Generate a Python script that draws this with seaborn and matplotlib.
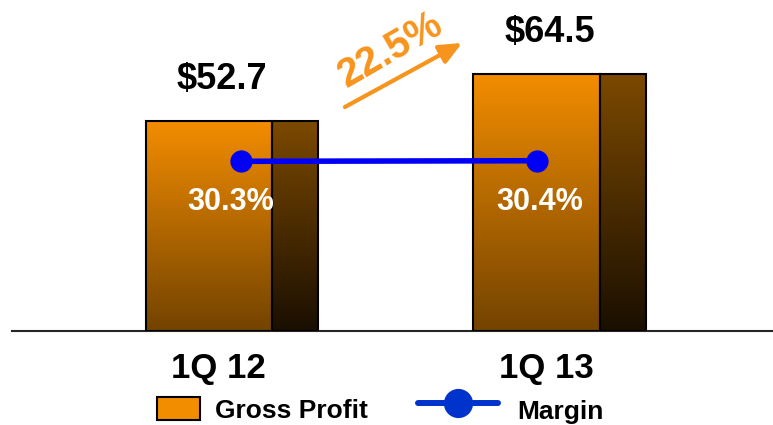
import numpy as np
import matplotlib.pyplot as plt
import matplotlib.colors as mcolors
from matplotlib.lines import Line2D
from matplotlib.patches import Patch
import seaborn as sns

# datos del grafico
quarters = ['1Q 12', '1Q 13']
gross_profit = [52.7, 64.5]
margin = [30.3, 30.4]
growth_label = '22.5%'

sns.set_style('white', rc={'text.color': 'black', 'xtick.color': 'black',
                           'axes.labelcolor': 'black'})
plt.rcParams['font.family'] = ['Liberation Sans', 'DejaVu Sans']

# ajustes de forma / posicion
front_w = 0.385
side_w = 0.141
marker_shift = [0.098, 0.0]
pct_shift = [0.067, 0.008]
value_shift = 0.04
label_shift = 0.03
orange = '#f7941d'


def fill_gradient(ax, bar, top, bottom):
    x0, y0 = bar.get_x(), bar.get_y()
    w, h = bar.get_width(), bar.get_height()
    cmap = mcolors.LinearSegmentedColormap.from_list('g', [bottom, top])
    grad = np.linspace(0, 1, 256).reshape(-1, 1)
    img = ax.imshow(grad, cmap=cmap, origin='lower', extent=[x0, x0 + w, y0, y0 + h],
                    aspect='auto', zorder=2.8)
    img.set_clip_path(bar)
    bar.set_facecolor('none')


fig = plt.figure(figsize=(7.73, 4.25), dpi=100)
ax = fig.add_axes([12 / 773, 94 / 425, 761 / 773, 331 / 425])

# barras frontales
sns.barplot(x=quarters, y=gross_profit, width=front_w, ax=ax, color='#f28d00',
            edgecolor='black', linewidth=1.5, zorder=3)
front_bars = list(ax.patches)
# cara lateral (efecto 3D)
pos = np.arange(len(quarters))
side_bars = ax.bar(pos + front_w / 2 + side_w / 2, gross_profit, width=side_w,
                   facecolor='#7a4800', edgecolor='black', linewidth=1.5, zorder=3)

for b in front_bars:
    fill_gradient(ax, b, '#f38d00', '#734300')
for b in side_bars:
    fill_gradient(ax, b, '#7c4900', '#1a0f00')

# etiquetas de valor
for i, v in enumerate(gross_profit):
    ax.annotate(f'${v}', (i + value_shift, v), xytext=(0, 23), textcoords='offset points',
                ha='center', va='baseline', fontsize=26, fontweight='bold', color='black')

# margen en eje secundario
ax2 = ax.twinx()
sns.lineplot(x=pos + np.array(marker_shift), y=margin, ax=ax2, color='#0000f5', lw=4,
             marker='o', markersize=16, markeredgewidth=0, zorder=5)
ax2.set_ylim(0, 59.1)
ax2.axis('off')
for i, m in enumerate(margin):
    ax2.annotate(f'{m}%', (i + pct_shift[i], m), xytext=(0, -35.3), textcoords='offset points',
                 ha='center', va='baseline', fontsize=22, fontweight='bold', color='white')

# flecha de crecimiento
ax.annotate('', xy=(0.7725, 72.4), xytext=(0.415, 56.3),
            arrowprops=dict(arrowstyle='-|>,head_length=0.9,head_width=0.4', color=orange,
                            lw=3, shrinkA=0, shrinkB=0, mutation_scale=15))
ax.text(0.553, 70.6, growth_label, rotation=30, ha='center', va='center',
        color=orange, fontsize=29, fontweight='bold')

# ejes
ax.set_ylim(0, 83.2)
ax.set_xlim(-0.6015, 1.722)
ax.set_yticks([])
ax.set_ylabel('')
ax.set_xticks(pos + label_shift, quarters)
ax.tick_params(axis='x', length=0, pad=34, labelsize=25, labelcolor='black')
for lab in ax.get_xticklabels():
    lab.set_fontweight('bold')
    lab.set_va('baseline')
sns.despine(ax=ax, left=True)
ax.spines['bottom'].set_color('#262626')
ax.spines['bottom'].set_linewidth(1.5)

# leyenda
leg_font = dict(weight='bold', size=19)
fig.legend(handles=[Patch(facecolor='#f28d00', edgecolor='black', linewidth=1.5)],
           labels=['Gross Profit'], loc='center left', bbox_to_anchor=(157 / 773, 0.036),
           frameon=False, borderpad=0, borderaxespad=0, handlelength=1.63,
           handleheight=1.0, handletextpad=0.57, prop=leg_font, labelcolor='black')
fig.legend(handles=[Line2D([], [], color='#0033cc', lw=4.3, marker='o', markersize=20)],
           labels=['Margin'], loc='center left', bbox_to_anchor=(418 / 773, 0.0334),
           frameon=False, borderpad=0, borderaxespad=0, handlelength=3.03,
           handleheight=2.37, handletextpad=0.72, prop=leg_font, labelcolor='black')

fig.savefig('out.png', dpi=100)
